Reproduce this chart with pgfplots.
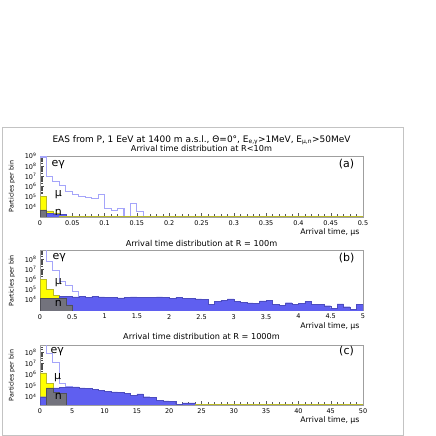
\documentclass[border=0pt]{standalone}
\usepackage{fontspec}
\setmainfont{DejaVu Sans}
\usepackage{pgfplots}
\pgfplotsset{compat=1.18}

\definecolor{egam}{RGB}{165,165,250}
\definecolor{nblue}{RGB}{95,95,240}
\definecolor{ngray}{RGB}{115,115,125}
\definecolor{muyel}{RGB}{255,255,0}
\definecolor{muline}{RGB}{185,185,40}
\definecolor{framegray}{RGB}{195,195,195}

\newcommand\mtk[1]{2e#1,3e#1,4e#1,5e#1,6e#1,7e#1,8e#1,9e#1}
\edef\minorA{\mtk3,\mtk4,\mtk5,\mtk6,\mtk7,\mtk8}
\edef\minorB{8e2,9e2,\mtk3,\mtk4,\mtk5,\mtk6,\mtk7,2e8,3e8,4e8,5e8,6e8}
\edef\minorC{2e3,3e3,4e3,5e3,6e3,7e3,8e3,9e3,\mtk4,\mtk5,\mtk6,\mtk7,2e8,3e8}

\tikzset{
  lab/.style={font=\fontsize{11}{12}\selectfont, anchor=west},
  plab/.style={font=\fontsize{11}{12}\selectfont},
}
\pgfplotsset{
  eas/.style={
    scale only axis, width=323bp,
    axis line style={draw=gray!75},
    tick align=inside, xtick pos=bottom, ytick pos=left,
    major tick length=4bp, minor tick length=3bp,
    tick style={gray!70!black, line width=0.4pt},
    ytick style={gray!60!black, line width=0.6pt},
    tick label style={font=\fontsize{6.5}{7}\selectfont},
    scaled x ticks=false,
    xticklabel={\pgfmathprintnumber[fixed, precision=2, assume math mode=true]{\tick}},
    minor x tick num=4,
    xlabel={Arrival time, μs},
    ylabel={Particles per bin},
    every axis x label/.style={at={(axis description cs:1,0)}, anchor=base east,
      yshift=-17.5bp, font=\fontsize{7.8}{9}\selectfont},
    every axis y label/.style={at={(axis description cs:-0.087,0.5)}, rotate=90,
      anchor=center, font=\fontsize{6.4}{7}\selectfont},
  },
  egline/.style={const plot mark left, draw=egam, line width=1.1bp},
  muhist/.style={const plot mark left, fill=muyel, draw=muline, line width=0.6bp},
  bhist/.style={const plot mark left, fill=nblue, draw=nblue!80!black, line width=0.3bp},
  nhist/.style={const plot mark left, fill=ngray, draw=ngray!70!black, line width=0.3bp},
}

\begin{document}
\begin{tikzpicture}
\path (0,0) rectangle (436bp,436bp);
\draw[framegray, line width=0.8bp] (2bp,1bp) rectangle (403bp,309bp);

\node[anchor=base, font=\fontsize{9}{10}\selectfont] at (201.5bp,293.7bp)
  {EAS from P, 1 EeV at 1400 m a.s.l., Θ=0°, E\textsubscript{e,γ}>1MeV, E\textsubscript{μ,n}>50MeV};
\node[anchor=base, font=\fontsize{8.2}{9}\selectfont] at (201.5bp,284.3bp)
  {Arrival time distribution at R<10m};
\node[anchor=base, font=\fontsize{8.2}{9}\selectfont] at (201.5bp,189.3bp)
  {Arrival time distribution at R = 100m};
\node[anchor=base, font=\fontsize{8.2}{9}\selectfont] at (201.5bp,96.5bp)
  {Arrival time distribution at R = 1000m};

% ---------------- (a) R<10m
\begin{axis}[eas, ymode=log, at={(40bp,219bp)}, anchor=south west, height=61bp,
  xmin=0, xmax=0.5, ymin=1e3, ymax=1e9,
  xtick={0,0.05,0.1,0.15,0.2,0.25,0.3,0.35,0.4,0.45,0.5},
  ytick={1e4,1e5,1e6,1e7,1e8,1e9},
  yticklabels={10\textsuperscript{4},10\textsuperscript{5},10\textsuperscript{6},10\textsuperscript{7},10\textsuperscript{8},10\textsuperscript{9}},
  minor ytick/.expanded={\minorA}]
\addplot[egline] coordinates {
  (0,8e8) (0.01,1e7) (0.02,3.2e6) (0.03,1.26e6) (0.04,3.5e5) (0.05,1.8e5)
  (0.06,1.1e5) (0.07,9e4) (0.08,6.3e4) (0.09,1.5e5) (0.10,6.8e3) (0.11,4.5e3)
  (0.12,6.8e3) (0.13,10) (0.14,2e4) (0.15,3.2e3) (0.16,10) };
\addplot[muhist] coordinates {(0,1.1e5) (0.01,4e3) (0.02,2.5e3) (0.03,2.5e3)} \closedcycle;
\addplot[bhist] coordinates {(0,2e3) (0.01,2.2e3) (0.02,2e3) (0.03,1.8e3) (0.04,1.8e3)} \closedcycle;
\addplot[nhist] coordinates {(0,5e3) (0.01,5e3)} \closedcycle;
\addplot[muline, line width=0.8bp] coordinates {(0.03,1.05e3) (0.5,1.05e3)};
\node[lab] at (axis description cs:0.025,0.86) {eγ};
\node[lab] at (axis description cs:0.035,0.36) {μ};
\node[lab] at (axis description cs:0.035,0.08) {n};
\node[plab] at (axis description cs:0.949,0.86) {(a)};
\end{axis}

% ---------------- (b) R = 100m
\begin{axis}[eas, ymode=log, at={(40bp,125.3bp)}, anchor=south west, height=60bp,
  xmin=0, xmax=5, ymin=8e2, ymax=7e8,
  xtick={0,0.5,1,1.5,2,2.5,3,3.5,4,4.5,5},
  ytick={1e4,1e5,1e6,1e7,1e8},
  yticklabels={10\textsuperscript{4},10\textsuperscript{5},10\textsuperscript{6},10\textsuperscript{7},10\textsuperscript{8}},
  minor ytick/.expanded={\minorB}]
\addplot[egline] coordinates {
  (0,1e9) (0.1,6.3e7) (0.2,7e6) (0.3,6.3e5) (0.4,2.5e5) (0.5,6.3e4) (0.6,1.2e4) (0.7,10) };
\addplot[muhist] coordinates {(0,1.1e6) (0.1,1e5) (0.2,2.7e4) (0.3,2.7e4)} \closedcycle;
\addplot[bhist] coordinates {
  (0,1.2e4) (0.1,1.2e4) (0.2,1.2e4) (0.3,2.0e4) (0.4,2.1e4) (0.5,1.9e4) (0.6,2.0e4)
  (0.7,1.8e4) (0.8,2.0e4) (0.9,1.85e4) (1.0,1.66e4) (1.1,1.78e4) (1.2,1.51e4)
  (1.3,1.58e4) (1.4,1.9e4) (1.5,1.78e4) (1.6,1.66e4) (1.7,1.58e4) (1.8,1.82e4)
  (1.9,1.58e4) (2.0,1.41e4) (2.1,1.58e4) (2.2,1.26e4) (2.3,1.41e4) (2.4,1.17e4)
  (2.5,1.12e4) (2.6,3.5e3) (2.7,6.3e3) (2.8,8.9e3) (2.9,1.17e4) (3.0,6.3e3)
  (3.1,5.2e3) (3.2,4.8e3) (3.3,4.5e3) (3.4,7.4e3) (3.5,8.9e3) (3.6,3.2e3)
  (3.7,2.7e3) (3.8,5.0e3) (3.9,3.2e3) (4.0,4.5e3) (4.1,6.3e3) (4.2,3.5e3)
  (4.3,3.5e3) (4.4,2.5e3) (4.5,1.4e3) (4.6,3.7e3) (4.7,2.0e3) (4.8,1.1e3)
  (4.9,3.2e3) (5.0,3.2e3) } \closedcycle;
\addplot[nhist] coordinates {(0,1.4e4) (0.1,1.4e4) (0.2,1.35e4) (0.3,1.3e4) (0.4,3e3) (0.5,3e3)} \closedcycle;
\node[lab] at (axis description cs:0.028,0.88) {eγ};
\node[lab] at (axis description cs:0.035,0.46) {μ};
\node[lab] at (axis description cs:0.035,0.12) {n};
\node[plab] at (axis description cs:0.949,0.88) {(b)};
\end{axis}

% ---------------- (c) R = 1000m
\begin{axis}[eas, ymode=log, at={(40bp,31bp)}, anchor=south west, height=59.3bp,
  xmin=0, xmax=50, ymin=1.8e3, ymax=4e8,
  xtick={0,5,10,15,20,25,30,35,40,45,50},
  ytick={1e4,1e5,1e6,1e7,1e8},
  yticklabels={10\textsuperscript{4},10\textsuperscript{5},10\textsuperscript{6},10\textsuperscript{7},10\textsuperscript{8}},
  minor ytick/.expanded={\minorC}]
\addplot[egline] coordinates {
  (0,1e9) (1,7.9e7) (2,1.15e7) (3,1.6e5) (4,8e4) (5,10) };
\addplot[muhist] coordinates {(0,1.4e6) (1,1.6e5) (2,1.6e5)} \closedcycle;
\addplot[bhist] coordinates {
  (0,1e4) (1,2.5e4) (2,6.3e4) (3,7e4) (4,7.9e4) (5,7.9e4) (6,6.3e4) (7,5.6e4)
  (8,4.5e4) (9,4e4) (10,3.2e4) (11,2.8e4) (12,2.6e4) (13,2e4) (14,1.26e4)
  (15,1.8e4) (16,1e4) (17,8.9e3) (18,4.5e3) (19,4.2e3) (20,4e3) (21,2.0e3)
  (22,2.8e3) (23,2.8e3) (24,2.8e3) } \closedcycle;
\addplot[nhist] coordinates {(1,6.3e4) (2,2.5e4) (3,2e4) (4,2e4)} \closedcycle;
\addplot[muline, line width=0.8bp] coordinates {(24,1.9e3) (50,1.9e3)};
\node[lab] at (axis description cs:0.022,0.9) {eγ};
\node[lab] at (axis description cs:0.033,0.46) {μ};
\node[lab] at (axis description cs:0.035,0.15) {n};
\node[plab] at (axis description cs:0.949,0.91) {(c)};
\end{axis}
\end{tikzpicture}
\end{document}
